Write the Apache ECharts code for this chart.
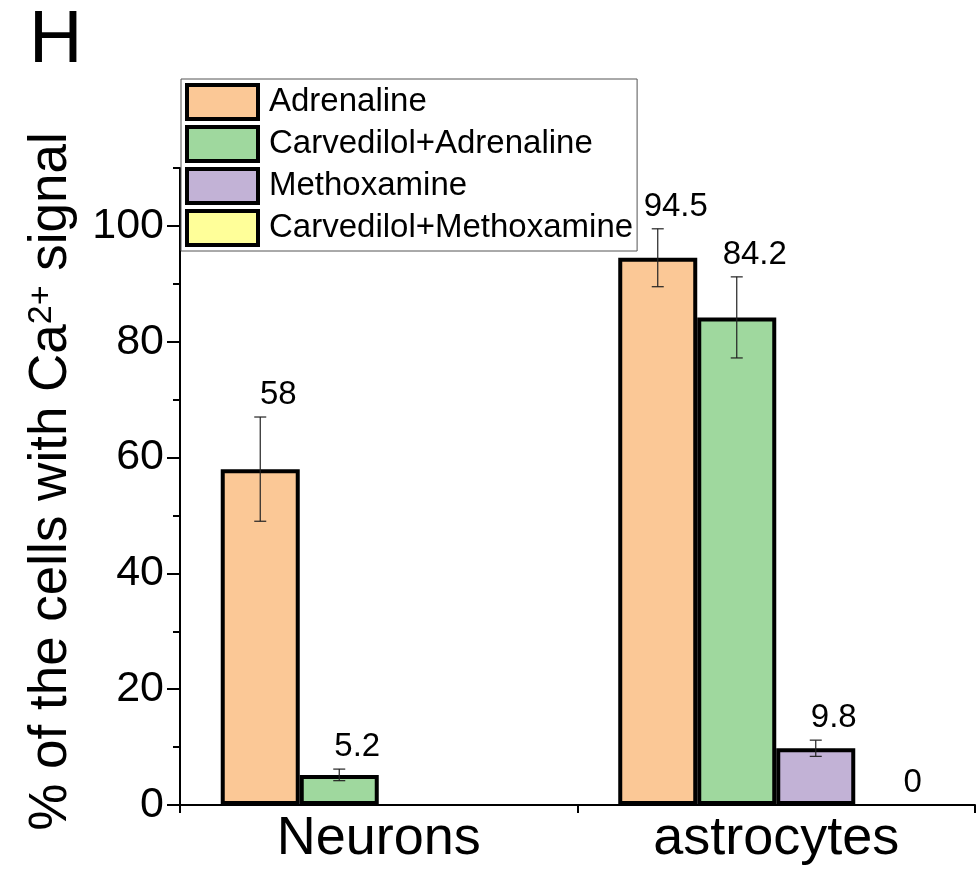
<!DOCTYPE html>
<html>
<head>
<meta charset="utf-8">
<script src="https://cdn.jsdelivr.net/npm/echarts@6/dist/echarts.min.js"></script>
<style>html,body{margin:0;padding:0;background:#fff}#c{width:976px;height:871px}</style>
</head>
<body>
<div id="c"></div>
<script>
// ---- data ----
const categories = ['Neurons', 'astrocytes'];
const seriesNames = ['Adrenaline', 'Carvedilol+Adrenaline', 'Methoxamine', 'Carvedilol+Methoxamine'];
const adrenaline = [58, 94.5];
const carvAdrenaline = [5.2, 84.2];
const methoxamine = [null, 9.8];
const carvMethoxamine = [null, 0];
const adrenalineErr = [9, 5];
const carvAdrenalineErr = [1, 7];
const methoxamineErr = [null, 1.4];
const carvMethoxamineErr = [null, 0];
const yTicks = [0, 20, 40, 60, 80, 100];
const yMinorTicks = [10, 30, 50, 70, 90, 110];

// ---- style ----
const colors = ['#FBC896', '#9FD89E', '#C2B2D6', '#FFFF99'];
const FONT = 'Liberation Sans, Arial, sans-serif';
const CAT_GAP = 0.205;
const LABEL_DX = 18;   // value labels sit slightly right of the bar centre
const LABEL_DY = 22;   // and above the error bar top

const values = [adrenaline, carvAdrenaline, methoxamine, carvMethoxamine];
const errors = [adrenalineErr, carvAdrenalineErr, methoxamineErr, carvMethoxamineErr];

const barSeries = seriesNames.map((name, s) => ({
  name: name,
  type: 'bar',
  barGap: '0%',
  barCategoryGap: (CAT_GAP * 100) + '%',
  itemStyle: { color: colors[s], borderColor: '#000', borderWidth: 4 },
  data: values[s].map(v => v === 0 ? { value: 0, itemStyle: { borderWidth: 0 } } : v),
  z: 2
}));

const errData = [];
values.forEach((arr, s) => arr.forEach((v, c) => {
  if (v !== null && v !== undefined) errData.push([c, s, v, errors[s][c] || 0]);
}));

const errSeries = {
  name: 'err',
  type: 'custom',
  z: 5,
  encode: { x: 0, y: 2 },
  data: errData,
  renderItem: function (params, api) {
    const c = api.value(0), s = api.value(1), v = api.value(2), e = api.value(3);
    const band = api.size([1, 0])[0];
    const bw = band * (1 - CAT_GAP) / 4;
    const base = api.coord([c, v]);
    const cx = base[0] + (s - 1.5) * bw;
    const top = api.coord([c, v + e])[1];
    const bot = api.coord([c, v - e])[1];
    const children = [];
    if (e > 0) {
      const st = { stroke: '#222', lineWidth: 1.2 };
      children.push({ type: 'line', shape: { x1: cx, y1: top, x2: cx, y2: bot }, style: st });
      children.push({ type: 'line', shape: { x1: cx - 6, y1: top, x2: cx + 6, y2: top }, style: st });
      children.push({ type: 'line', shape: { x1: cx - 6, y1: bot, x2: cx + 6, y2: bot }, style: st });
    }
    children.push({
      type: 'text',
      style: {
        text: String(v), x: cx + LABEL_DX, y: top - LABEL_DY,
        align: 'center', verticalAlign: 'middle',
        fill: '#000', font: '33px ' + FONT
      }
    });
    return { type: 'group', children: children };
  }
};

const chart = echarts.init(document.getElementById('c'), null, { renderer: 'canvas' });
chart.setOption({
  animation: false,
  backgroundColor: '#fff',
  title: {
    text: 'H', left: 24, top: 0,
    textStyle: { fontFamily: FONT, fontSize: 74, fontWeight: 'normal', color: '#000' }
  },
  legend: {
    data: seriesNames,
    orient: 'vertical',
    left: 181, top: 79,
    padding: [4, 4, 4, 4],
    itemGap: 4,
    itemWidth: 71, itemHeight: 34,
    icon: 'rect',
    backgroundColor: '#fff',
    borderColor: '#555', borderWidth: 1,
    itemStyle: { borderWidth: 4, borderColor: '#000' },
    textStyle: { fontFamily: FONT, fontSize: 33, color: '#000', padding: [0, 0, 0, 6] }
  },
  grid: { left: 180, right: 1, top: 168, bottom: 66, containLabel: false },
  xAxis: {
    type: 'category',
    data: categories,
    axisLine: { lineStyle: { color: '#000', width: 2 } },
    axisTick: { show: true, length: 8, lineStyle: { color: '#000', width: 2 } },
    axisLabel: { fontFamily: FONT, fontSize: 54, color: '#000', margin: 7 }
  },
  yAxis: [{
    type: 'value', min: 0, max: 110, interval: 20,
    name: '% of the cells with Ca{sup|2+} signal',
    nameLocation: 'middle', nameGap: 102, nameRotate: 90,
    nameTextStyle: {
      fontFamily: FONT, fontSize: 53, color: '#000', padding: [0, 0, 0, 10],
      rich: { sup: { fontFamily: FONT, fontSize: 34, color: '#000', verticalAlign: 'top', lineHeight: 53 } }
    },
    splitLine: { show: false },
    axisLine: { show: true, lineStyle: { color: '#000', width: 2 } },
    axisTick: { show: true, length: 13, customValues: yTicks, lineStyle: { color: '#000', width: 2 } },
    axisLabel: { customValues: yTicks, fontFamily: FONT, fontSize: 43, color: '#000', margin: 16 }
  }, {
    type: 'value', min: 0, max: 110, interval: 10, position: 'left',
    splitLine: { show: false },
    axisLine: { show: false },
    axisTick: { show: true, length: 7, customValues: yMinorTicks, lineStyle: { color: '#000', width: 2 } },
    axisLabel: { show: false }
  }],
  series: barSeries.concat([errSeries])
});
</script>
</body>
</html>
